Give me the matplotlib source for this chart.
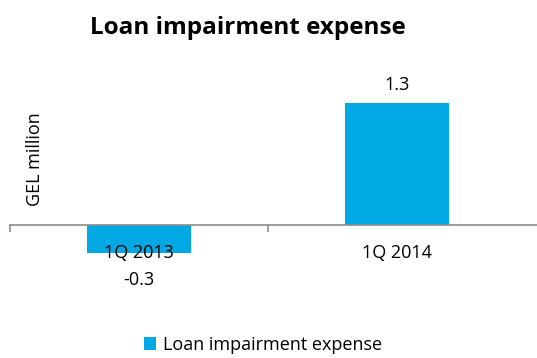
import matplotlib.pyplot as plt

# Data
categories = ['1Q 2013', '1Q 2014']
values = [-0.3, 1.3]
value_labels = ['-0.3', '1.3']
series_name = 'Loan impairment expense'

plt.rcParams['font.family'] = ['Open Sans', 'DejaVu Sans']

fig = plt.figure(figsize=(5.37, 3.58), dpi=100)
# axes run slightly past the right edge, like the original
ax = fig.add_axes([0.0186, 0.2402, 0.9963, 0.5503])

bar_color = '#00A9E3'
x = range(len(categories))
bars = ax.bar(x, values, width=0.4, color=bar_color, label=series_name, zorder=1)

ax.set_xlim(-0.5, 1.574)
ax.set_ylim(-0.5, 1.6)

# Axis styling: only the zero line with small tick marks
for side in ['top', 'right', 'left']:
    ax.spines[side].set_visible(False)
ax.spines['bottom'].set_position(('data', 0))
ax.spines['bottom'].set_color('#8c8c8c')
ax.spines['bottom'].set_linewidth(1.2)
ax.spines['bottom'].set_zorder(3)
ax.set_xticks([-0.5, 0.5])
ax.set_xticklabels([])
ax.tick_params(axis='x', direction='out', length=5, color='#8c8c8c', width=1.2)
ax.set_yticks([])

# Category labels
for i, cat in enumerate(categories):
    ax.annotate(cat, (i, 0), xytext=(0, -20), textcoords='offset points',
                ha='center', va='center', fontsize=13, zorder=4)

# Value labels
for i, (v, lbl) in enumerate(zip(values, value_labels)):
    off = 13 if v > 0 else -19
    ax.annotate(lbl, (i, v), xytext=(0, off), textcoords='offset points',
                ha='center', va='center', fontsize=13)

fig.text(0.0652, 0.555, 'GEL million', rotation=90, ha='center', va='center', fontsize=13)
fig.text(0.462, 0.922, 'Loan impairment expense', ha='center', va='center',
         fontsize=17.5, fontweight='bold')

fig.legend(loc='center', bbox_to_anchor=(0.49, 0.036), frameon=False, fontsize=13,
           handlelength=0.7, handleheight=0.7, handletextpad=0.4)

plt.savefig('out.png', dpi=100)
